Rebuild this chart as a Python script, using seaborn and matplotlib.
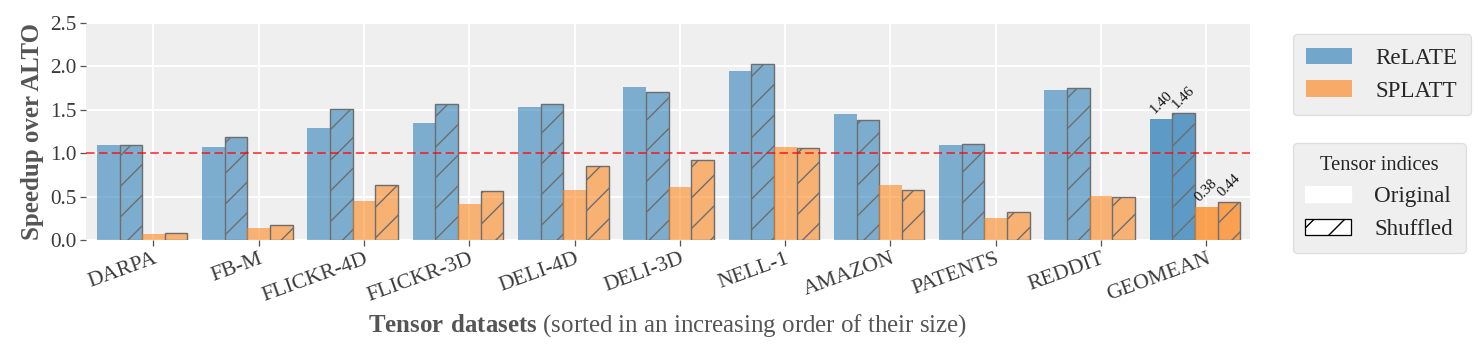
import numpy as np
import pandas as pd
import matplotlib
matplotlib.use("Agg")
import matplotlib.pyplot as plt
from matplotlib.patches import Patch
import seaborn as sns

categories = ['DARPA', 'FB-M', 'FLICKR-4D', 'FLICKR-3D', 'DELI-4D', 'DELI-3D',
              'NELL-1', 'AMAZON', 'PATENTS', 'REDDIT', 'GEOMEAN']
relate_orig = [1.09, 1.07, 1.29, 1.35, 1.53, 1.76, 1.95, 1.45, 1.10, 1.73, 1.40]
relate_shuf = [1.10, 1.19, 1.51, 1.57, 1.57, 1.70, 2.03, 1.38, 1.11, 1.75, 1.46]
splatt_orig = [0.07, 0.14, 0.45, 0.41, 0.58, 0.61, 1.07, 0.63, 0.25, 0.51, 0.38]
splatt_shuf = [0.08, 0.17, 0.63, 0.57, 0.85, 0.92, 1.06, 0.58, 0.32, 0.50, 0.44]
series_names = ['ReLATE-Original', 'ReLATE-Shuffled', 'SPLATT-Original', 'SPLATT-Shuffled']
series_vals = [relate_orig, relate_shuf, splatt_orig, splatt_shuf]

BLUE = '#1f77b4'
ORANGE = '#ff7f0e'
FACE = '#efefef'

sns.set_style("darkgrid", {
    "axes.facecolor": FACE,
    "grid.color": "white",
    "xtick.bottom": True,
    "ytick.left": True,
})
plt.rcParams['font.family'] = ['Liberation Serif', 'DejaVu Serif']
plt.rcParams['mathtext.fontset'] = 'custom'
plt.rcParams['mathtext.rm'] = 'Liberation Serif'
plt.rcParams['mathtext.bf'] = 'Liberation Serif:bold'
plt.rcParams['hatch.linewidth'] = 1.1

rows = []
for name, vals in zip(series_names, series_vals):
    for c, v in zip(categories, vals):
        rows.append({'dataset': c, 'series': name, 'speedup': v})
df = pd.DataFrame(rows)

DPI = 92
fig = plt.figure(figsize=(1484 / DPI, 355 / DPI), dpi=DPI)
ax = fig.add_axes([0.058, 0.324, 0.784, 0.611])

palette = {'ReLATE-Original': BLUE, 'ReLATE-Shuffled': BLUE,
           'SPLATT-Original': ORANGE, 'SPLATT-Shuffled': ORANGE}
W = 0.86
sns.barplot(data=df, x='dataset', y='speedup', hue='series', hue_order=series_names,
            order=categories, palette=palette, width=W, gap=0, saturation=1,
            legend=False, ax=ax)

bw = W / 4
for i, cont in enumerate(ax.containers):
    shuffled = 'Shuffled' in series_names[i]
    for j, p in enumerate(cont.patches):
        p.set_x(p.get_x() - bw / 2)
        base = BLUE if i < 2 else ORANGE
        a = 0.7 if categories[j] == 'GEOMEAN' else 0.55
        p.set_facecolor(matplotlib.colors.to_rgba(base, a))
        if shuffled:
            p.set_hatch('/')
            p.set_edgecolor('#6e6e6e')
            p.set_linewidth(1.1)
        else:
            p.set_edgecolor('none')
            p.set_linewidth(0)

gi = categories.index('GEOMEAN')
for i, cont in enumerate(ax.containers):
    p = cont.patches[gi]
    v = series_vals[i][gi]
    ax.text(p.get_x() + p.get_width() / 2, v + 0.03, f'{v:.2f}', rotation=45,
            ha='center', va='bottom', fontsize=11.5, color='#111111')

ax.axhline(1.0, color='red', alpha=0.7, linestyle=(0, (4.5, 2.2)), linewidth=1.5, zorder=3)

ax.set_ylim(0, 2.5)
ax.set_xlim(-0.64, 10.41)
yt = np.arange(0, 2.51, 0.5)
ax.set_yticks(yt)
ax.set_yticklabels([f'{t:.1f}' for t in yt])
ax.grid(True, color='white', linewidth=1.5)
ax.set_axisbelow(True)
for s in ax.spines.values():
    s.set_visible(False)

ax.tick_params(axis='both', which='major', length=4.5, width=1.0, color='#555555',
               labelcolor='#3a3a3a')
ax.tick_params(axis='y', labelsize=16.5, pad=3)
ax.tick_params(axis='x', labelsize=17, pad=3)
plt.setp(ax.get_xticklabels(), rotation=20, ha='right', rotation_mode='anchor')

ax.set_ylabel('Speedup over ALTO', fontsize=19.5, fontweight='bold', color='#555555', labelpad=5)
ax.set_xlabel(r'$\mathbf{Tensor\ datasets}$ (sorted in an increasing order of their size)',
              fontsize=19.5, color='#555555', labelpad=5)

h1 = [Patch(facecolor=matplotlib.colors.to_rgba(BLUE, 0.6), edgecolor='none', label='ReLATE'),
      Patch(facecolor=matplotlib.colors.to_rgba(ORANGE, 0.6), edgecolor='none', label='SPLATT')]
fig.legend(handles=h1, loc='upper left', bbox_to_anchor=(0.871, 0.904),
           borderaxespad=0, fontsize=18, frameon=True, facecolor=FACE,
           edgecolor='#dddddd', framealpha=1, handlelength=2.0, handleheight=0.7,
           labelspacing=0.5, borderpad=0.6, handletextpad=1.0)
h2 = [Patch(facecolor='white', edgecolor='white', label='Original'),
      Patch(facecolor='white', edgecolor='black', hatch='/', label='Shuffled')]
fig.legend(handles=h2, loc='upper left', bbox_to_anchor=(0.871, 0.597),
           borderaxespad=0, fontsize=18, title='Tensor indices', title_fontsize=16,
           frameon=True, facecolor=FACE, edgecolor='#dddddd', framealpha=1,
           handlelength=2.0, handleheight=0.7, labelspacing=0.5, borderpad=0.55,
           handletextpad=1.0)

fig.savefig('out.png', dpi=DPI)
